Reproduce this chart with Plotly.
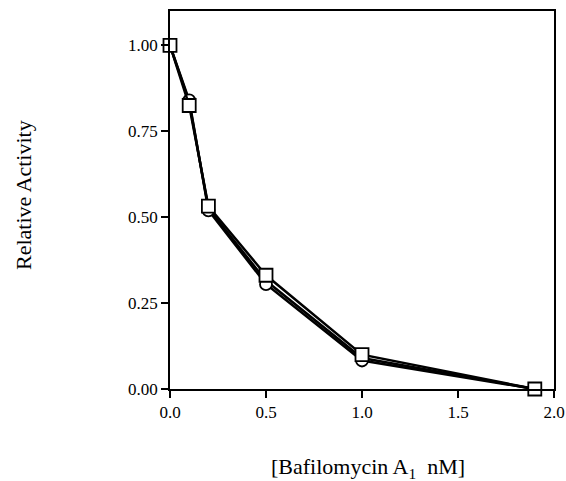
import plotly.graph_objects as go

conc = [0.0, 0.1, 0.2, 0.5, 1.0, 1.9]
circles = [1.0, 0.84, 0.52, 0.305, 0.083, 0.0]
middle = [1.0, 0.835, 0.525, 0.315, 0.09, 0.0]
squares = [1.0, 0.825, 0.532, 0.331, 0.10, 0.0]

x_ticks = [0.0, 0.5, 1.0, 1.5, 2.0]
x_tick_text = ["0.0", "0.5", "1.0", "1.5", "2.0"]
y_ticks = [0.0, 0.25, 0.5, 0.75, 1.0]
y_tick_text = ["0.00", "0.25", "0.50", "0.75", "1.00"]

W, H = 566, 481
L, R, T, B = 170, 12, 11, 481 - 389
pw, ph = W - L - R, H - T - B

fig = go.Figure()
fig.add_trace(go.Scatter(x=conc, y=middle, mode="lines",
                         line=dict(color="black", width=2.5), showlegend=False, cliponaxis=False))
fig.add_trace(go.Scatter(x=conc, y=circles, mode="lines+markers",
                         line=dict(color="black", width=2.5),
                         marker=dict(symbol="circle", size=12, color="white",
                                     line=dict(color="black", width=1.8)),
                         showlegend=False, cliponaxis=False))
fig.add_trace(go.Scatter(x=conc, y=squares, mode="lines+markers",
                         line=dict(color="black", width=2.5),
                         marker=dict(symbol="square", size=13, color="white",
                                     line=dict(color="black", width=1.8)),
                         showlegend=False, cliponaxis=False))

font = dict(family="Liberation Serif, Times New Roman, serif", color="black")

def px_to_paper(px_x, px_y):
    return (px_x - L) / pw, (H - B - px_y) / ph

yt_x, yt_y = px_to_paper(23, 195)
xt_x, xt_y = px_to_paper(368, 468)

fig.update_layout(
    width=W, height=H,
    margin=dict(l=L, r=R, t=T, b=B, autoexpand=False),
    paper_bgcolor="white", plot_bgcolor="white",
    font=dict(size=17, **font),
    xaxis=dict(range=[0, 2.0], tickvals=x_ticks, ticktext=x_tick_text,
               showgrid=False, zeroline=False, showline=True, linecolor="black",
               linewidth=1.5, mirror=True, ticks="outside", ticklen=7, tickwidth=1.5,
               tickcolor="black", tickfont=dict(size=17, **font), automargin=False),
    yaxis=dict(range=[0, 1.1], tickvals=y_ticks, ticktext=y_tick_text,
               showgrid=False, zeroline=False, showline=True, linecolor="black",
               linewidth=1.5, mirror=True, ticks="outside", ticklen=7, tickwidth=1.5,
               tickcolor="black", tickfont=dict(size=17, **font), automargin=False),
    annotations=[
        dict(text="Relative Activity", x=yt_x, y=yt_y, xref="paper", yref="paper",
             xanchor="center", yanchor="middle",
             showarrow=False, textangle=-90, font=dict(size=22, **font)),
        dict(text="[Bafilomycin A<sub>1</sub>  nM]", x=xt_x, y=xt_y, xref="paper",
             yref="paper", xanchor="center", yanchor="middle",
             showarrow=False, font=dict(size=22, **font)),
    ],
)

fig.write_html("out.html", config={"displayModeBar": False},
               post_script="document.body.style.margin='0px';document.body.style.overflow='hidden';")
